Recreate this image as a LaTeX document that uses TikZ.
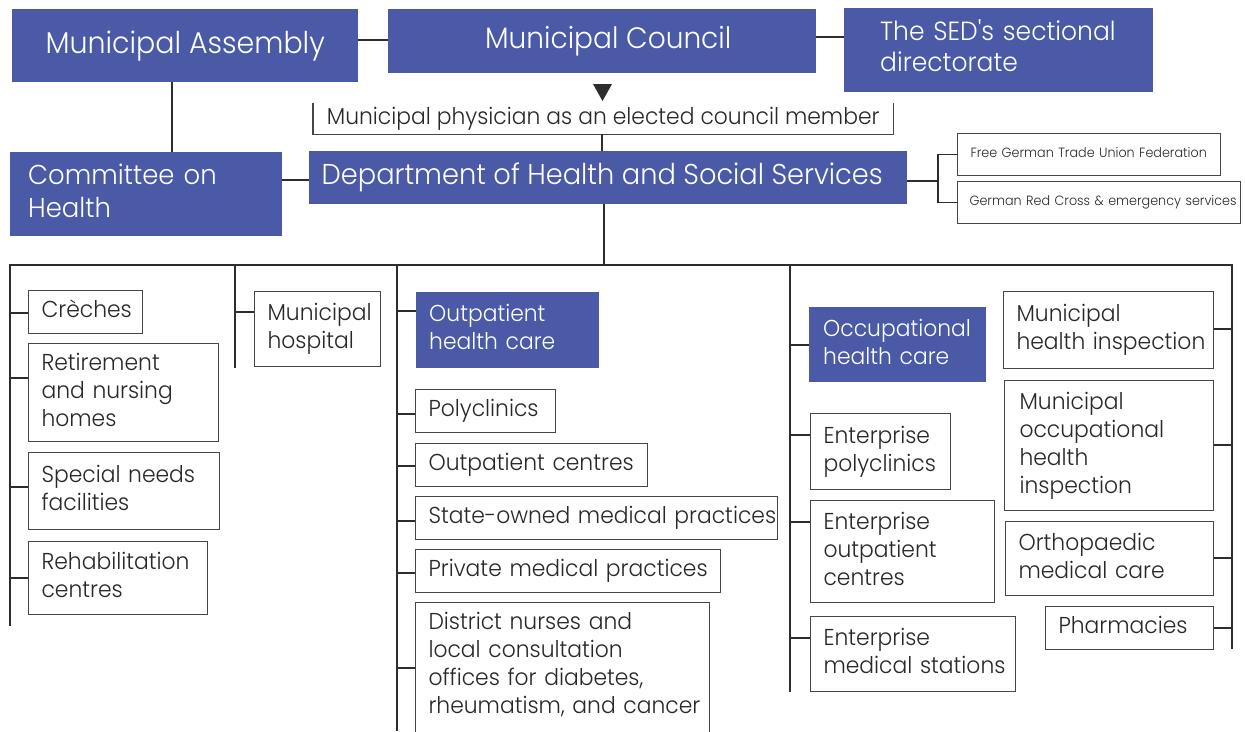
\documentclass[tikz,border=0pt]{standalone}
\usepackage{fontspec}
\setmainfont{Poppins}[UprightFont={* Light},FakeStretch=0.95]
\newfontfamily\sedfont{Poppins}[UprightFont={* Light},FakeStretch=0.95]
\definecolor{hblue}{RGB}{75,90,166}
\definecolor{lc}{RGB}{45,45,45}
\definecolor{bc}{RGB}{70,70,70}
\definecolor{tc}{RGB}{40,40,40}
\newcommand{\mlines}[1]{\begin{tabular}{@{}l@{}}\rule{0pt}{\dimexpr0.7\baselineskip+4pt\relax}#1\end{tabular}}
\newcommand{\bigA}{\fontsize{30}{34}\selectfont}
\newcommand{\bigC}{\fontsize{29.5}{34}\selectfont}
\newcommand{\bigS}{\sedfont\fontsize{26.3}{31}\selectfont}
\newcommand{\bigH}{\fontsize{27.3}{33}\selectfont}
\newcommand{\bigD}{\fontsize{28.7}{33}\selectfont}
\newcommand{\bodyf}{\fontsize{23}{28}\selectfont}
\newcommand{\smallf}{\fontsize{13.4}{16}\selectfont}
\begin{document}
\begin{tikzpicture}[x=1pt,y=-1pt,
  conn/.style={draw=lc,line width=1.4pt},
  thin/.style={draw=lc,line width=1.1pt},
  wbox/.style={draw=bc,line width=1.1pt,fill=white,text=tc,anchor=north west,align=left,inner xsep=13pt,inner ysep=0pt,font=\bodyf},
  bbox/.style={fill=hblue,text=white,anchor=north west,align=left,inner xsep=13pt,inner ysep=0pt,font=\bodyf},
  cbox/.style={fill=hblue,text=white,anchor=north west,align=center,inner sep=0pt}]
\useasboundingbox (0,0) rectangle (1245,731);

% top level
\node[cbox,font=\bigA,minimum width=346pt,minimum height=73pt] (asm) at (12,9) {Municipal Assembly};
\node[cbox,font=\bigC,minimum width=428pt,minimum height=64pt] (council) at (388,9) {\hspace*{12pt}Municipal Council};
\node[bbox,font=\bigS,inner xsep=36pt,text width=237pt,minimum height=84pt] (sed) at (844,8) {\mlines{The SED's sectional\\directorate}};
\node[bbox,font=\bigH,inner xsep=18pt,text width=236pt,minimum height=84pt] (committee) at (10,152) {\mlines{Committee on\\Health}};
\node[cbox,font=\bigD,minimum width=598pt,minimum height=53pt] (dept) at (309,151) {Department of Health and Social Services\hspace*{12pt}};
\node[anchor=north west,font=\bodyf,text=tc,minimum width=580pt,minimum height=31pt,inner sep=0pt] (phys) at (313,103) {Municipal physician as an elected council member};
\draw[thin,draw=bc] (phys.north west) -- (phys.south west) -- (phys.south east) -- (phys.north east);
\fill[lc] (593,84) -- (612,84) -- (602.5,101) -- cycle;

\node[wbox,font=\smallf,text width=237pt,minimum height=42pt] (fgtuf) at (957,133) {\mlines{Free German Trade Union Federation}};
\node[wbox,font=\smallf,inner xsep=12pt,text width=259pt,minimum height=42pt] (grc) at (957,181) {\mlines{German Red Cross \& emergency services}};

% top connectors
\draw[conn] (asm.east |- 0,40) -- (council.west |- 0,40);
\draw[conn] (council.east |- 0,37) -- (sed.west |- 0,37);
\draw[conn] (asm.south -| 172,0) -- (committee.north -| 172,0);
\draw[conn] (committee.east |- 0,180) -- (dept.west |- 0,180);
\draw[conn] (phys.south -| 602,0) -- (dept.north -| 602,0);
\draw[thin] (dept.east |- 0,181) -- (938,181);
\draw[thin] (fgtuf.west) -- ++(-19,0) |- (grc.west);

% bus
\coordinate (c1) at (10,265);
\coordinate (c2) at (235,265);
\coordinate (c3) at (397,265);
\coordinate (c4) at (790,265);
\coordinate (c5) at (1232,265);
\draw[conn] (dept.south -| 604,0) -- (604,265);
\draw[thin] (10,626) -- (c1) -- (c5) -- (1232,649);
\draw[thin] (c2) -- (235,368);
\draw[thin] (c3) -- (397,731);
\draw[thin] (c4) -- (790,692);

% column 1
\node[wbox,text width=88pt,minimum height=43pt] (creches) at (28,290) {\mlines{Crèches}};
\node[wbox,text width=164pt,minimum height=98pt] (retire) at (28,343) {\mlines{Retirement\\and nursing\\homes}};
\node[wbox,text width=165pt,minimum height=77pt] (special) at (28,452) {\mlines{Special needs\\facilities}};
\node[wbox,text width=153pt,minimum height=73pt] (rehab) at (28,541) {\mlines{Rehabilitation\\centres}};
\draw[thin] (c1 |- 0,313) -- (creches.west |- 0,313);
\draw[thin] (c1 |- 0,378) -- (retire.west |- 0,378);
\draw[thin] (c1 |- 0,487) -- (special.west |- 0,487);
\draw[thin] (c1 |- 0,578) -- (rehab.west |- 0,578);

% column 2
\node[wbox,text width=100pt,minimum height=75pt] (hosp) at (254,291) {\mlines{Municipal\\hospital}};
\draw[thin] (c2 |- 0,312) -- (hosp.west |- 0,312);

% column 3
\node[bbox,text width=157pt,minimum height=76pt] (outpat) at (416,292) {\mlines{Outpatient\\health care}};
\node[wbox,text width=114pt,minimum height=43pt] (poly) at (415,389) {\mlines{Polyclinics}};
\node[wbox,text width=206pt,minimum height=43pt] (outc) at (415,443) {\mlines{Outpatient centres}};
\node[wbox,text width=336pt,minimum height=43pt] (state) at (415,496) {\mlines{State-owned medical practices}};
\node[wbox,text width=279pt,minimum height=43pt] (priv) at (415,549) {\mlines{Private medical practices}};
\node[wbox,text width=268pt,inner ysep=7pt] (district) at (415,602) {\mlines{District nurses and\\local consultation\\offices for diabetes,\\rheumatism, and cancer\rule[-44pt]{0pt}{44pt}}};
\draw[thin] (c3 |- 0,311) -- (outpat.west |- 0,311);
\draw[thin] (c3 |- 0,414) -- (poly.west |- 0,414);
\draw[thin] (c3 |- 0,466) -- (outc.west |- 0,466);
\draw[thin] (c3 |- 0,521) -- (state.west |- 0,521);
\draw[thin] (c3 |- 0,573) -- (priv.west |- 0,573);
\draw[thin] (c3 |- 0,668) -- (district.west |- 0,668);

% column 4
\node[bbox,inner xsep=14pt,text width=149pt,minimum height=75pt] (occ) at (809,307) {\mlines{Occupational\\health care}};
\node[wbox,text width=114pt,minimum height=76pt] (epoly) at (810,413) {\mlines{Enterprise\\polyclinics}};
\node[wbox,text width=158pt,minimum height=102pt] (eout) at (810,500) {\mlines{Enterprise\\outpatient\\centres}};
\node[wbox,text width=179pt,minimum height=75pt] (emed) at (810,616) {\mlines{Enterprise\\medical stations}};
\draw[thin] (c4 |- 0,345) -- (occ.west |- 0,345);
\draw[thin] (c4 |- 0,435) -- (epoly.west |- 0,435);
\draw[thin] (c4 |- 0,522) -- (eout.west |- 0,522);
\draw[thin] (c4 |- 0,638) -- (emed.west |- 0,638);

% column 5
\node[wbox,text width=184pt,minimum height=77pt] (mhi) at (1003,291) {\mlines{Municipal\\health inspection}};
\node[wbox,inner xsep=15pt,text width=179pt,minimum height=130pt] (moh) at (1004,380) {\mlines{Municipal\\occupational\\health\\inspection}};
\node[wbox,text width=182pt,minimum height=74pt] (ortho) at (1005,521) {\mlines{Orthopaedic\\medical care}};
\node[wbox,text width=142pt,minimum height=43pt] (pharm) at (1045,606) {\mlines{Pharmacies}};
\draw[thin] (mhi.east |- 0,329) -- (c5 |- 0,329);
\draw[thin] (moh.east |- 0,445) -- (c5 |- 0,445);
\draw[thin] (ortho.east |- 0,558) -- (c5 |- 0,558);
\draw[thin] (pharm.east |- 0,628) -- (c5 |- 0,628);
\end{tikzpicture}
\end{document}
